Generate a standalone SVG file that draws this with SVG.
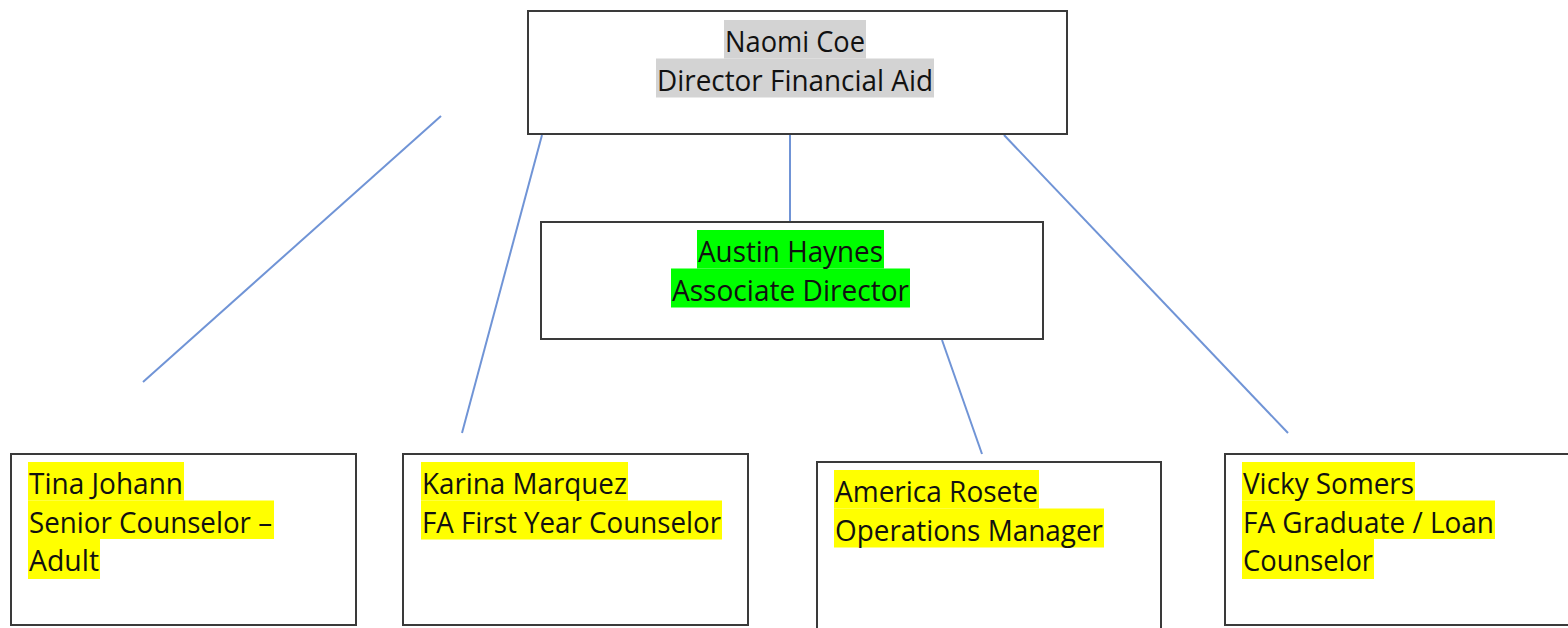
<svg xmlns="http://www.w3.org/2000/svg" width="1568" height="628" viewBox="0 0 1568 628">
<style>
.box{fill:#fff;stroke:#3a3a3a;stroke-width:2}
.t{font-family:"Open Sans","Liberation Sans",sans-serif;font-size:29px;fill:#111}
.hg{fill:#d3d3d3}
.hgreen{fill:#00ff00}
.hy{fill:#ffff00}
.conn line{stroke:#7094d6;stroke-width:2}
</style>
<rect width="1568" height="628" fill="#fff"/>
<g class="conn" id="connectors">
<line x1="441" y1="116" x2="143" y2="382"/>
<line x1="542" y1="135" x2="462" y2="433"/>
<line x1="790" y1="135" x2="790" y2="221"/>
<line x1="1004" y1="135" x2="1288" y2="433"/>
<line x1="942" y1="340" x2="982" y2="454"/>
</g>
<g id="naomi">
<rect class="box" x="528" y="11" width="539" height="123"/>
<rect class="hg" x="724" y="20" width="142" height="38.5"/>
<rect class="hg" x="656" y="58.5" width="278" height="39"/>
<text class="t" x="725" y="52" textLength="140" lengthAdjust="spacingAndGlyphs">Naomi Coe</text>
<text class="t" x="657" y="90.5" textLength="276" lengthAdjust="spacingAndGlyphs">Director Financial Aid</text>
</g>
<g id="austin">
<rect class="box" x="541" y="222" width="502" height="117"/>
<rect class="hgreen" x="697" y="230" width="187" height="38.5"/>
<rect class="hgreen" x="671" y="268.5" width="239" height="39"/>
<text class="t" x="698" y="262" textLength="185" lengthAdjust="spacingAndGlyphs">Austin Haynes</text>
<text class="t" x="672" y="300.5" textLength="237" lengthAdjust="spacingAndGlyphs">Associate Director</text>
</g>
<g id="tina">
<rect class="box" x="11" y="454" width="345" height="171"/>
<rect class="hy" x="28" y="462" width="156" height="38.5"/>
<rect class="hy" x="28" y="500.5" width="246" height="38.5"/>
<rect class="hy" x="28" y="539" width="72" height="40"/>
<text class="t" x="29" y="494" textLength="154" lengthAdjust="spacingAndGlyphs">Tina Johann</text>
<text class="t" x="29" y="532.5" textLength="243" lengthAdjust="spacingAndGlyphs">Senior Counselor –</text>
<text class="t" x="29" y="571" textLength="70" lengthAdjust="spacingAndGlyphs">Adult</text>
</g>
<g id="karina">
<rect class="box" x="403" y="454" width="345" height="171"/>
<rect class="hy" x="421" y="462" width="207" height="38.5"/>
<rect class="hy" x="421" y="500.5" width="301" height="39"/>
<text class="t" x="422" y="494" textLength="205" lengthAdjust="spacingAndGlyphs">Karina Marquez</text>
<text class="t" x="422" y="532.5" textLength="299" lengthAdjust="spacingAndGlyphs">FA First Year Counselor</text>
</g>
<g id="america">
<rect class="box" x="817" y="462" width="344" height="180"/>
<rect class="hy" x="834" y="470" width="205" height="38.5"/>
<rect class="hy" x="834" y="508.5" width="270" height="39"/>
<text class="t" x="835" y="502" textLength="203" lengthAdjust="spacingAndGlyphs">America Rosete</text>
<text class="t" x="835" y="540.5" textLength="268" lengthAdjust="spacingAndGlyphs">Operations Manager</text>
</g>
<g id="vicky">
<rect class="box" x="1225" y="454" width="360" height="171"/>
<rect class="hy" x="1242" y="462" width="173" height="38.5"/>
<rect class="hy" x="1242" y="500.5" width="253" height="38.5"/>
<rect class="hy" x="1242" y="539" width="132" height="40"/>
<text class="t" x="1243" y="494" textLength="171" lengthAdjust="spacingAndGlyphs">Vicky Somers</text>
<text class="t" x="1243" y="532.5" textLength="251" lengthAdjust="spacingAndGlyphs">FA Graduate / Loan</text>
<text class="t" x="1243" y="571" textLength="130" lengthAdjust="spacingAndGlyphs">Counselor</text>
</g>
</svg>
